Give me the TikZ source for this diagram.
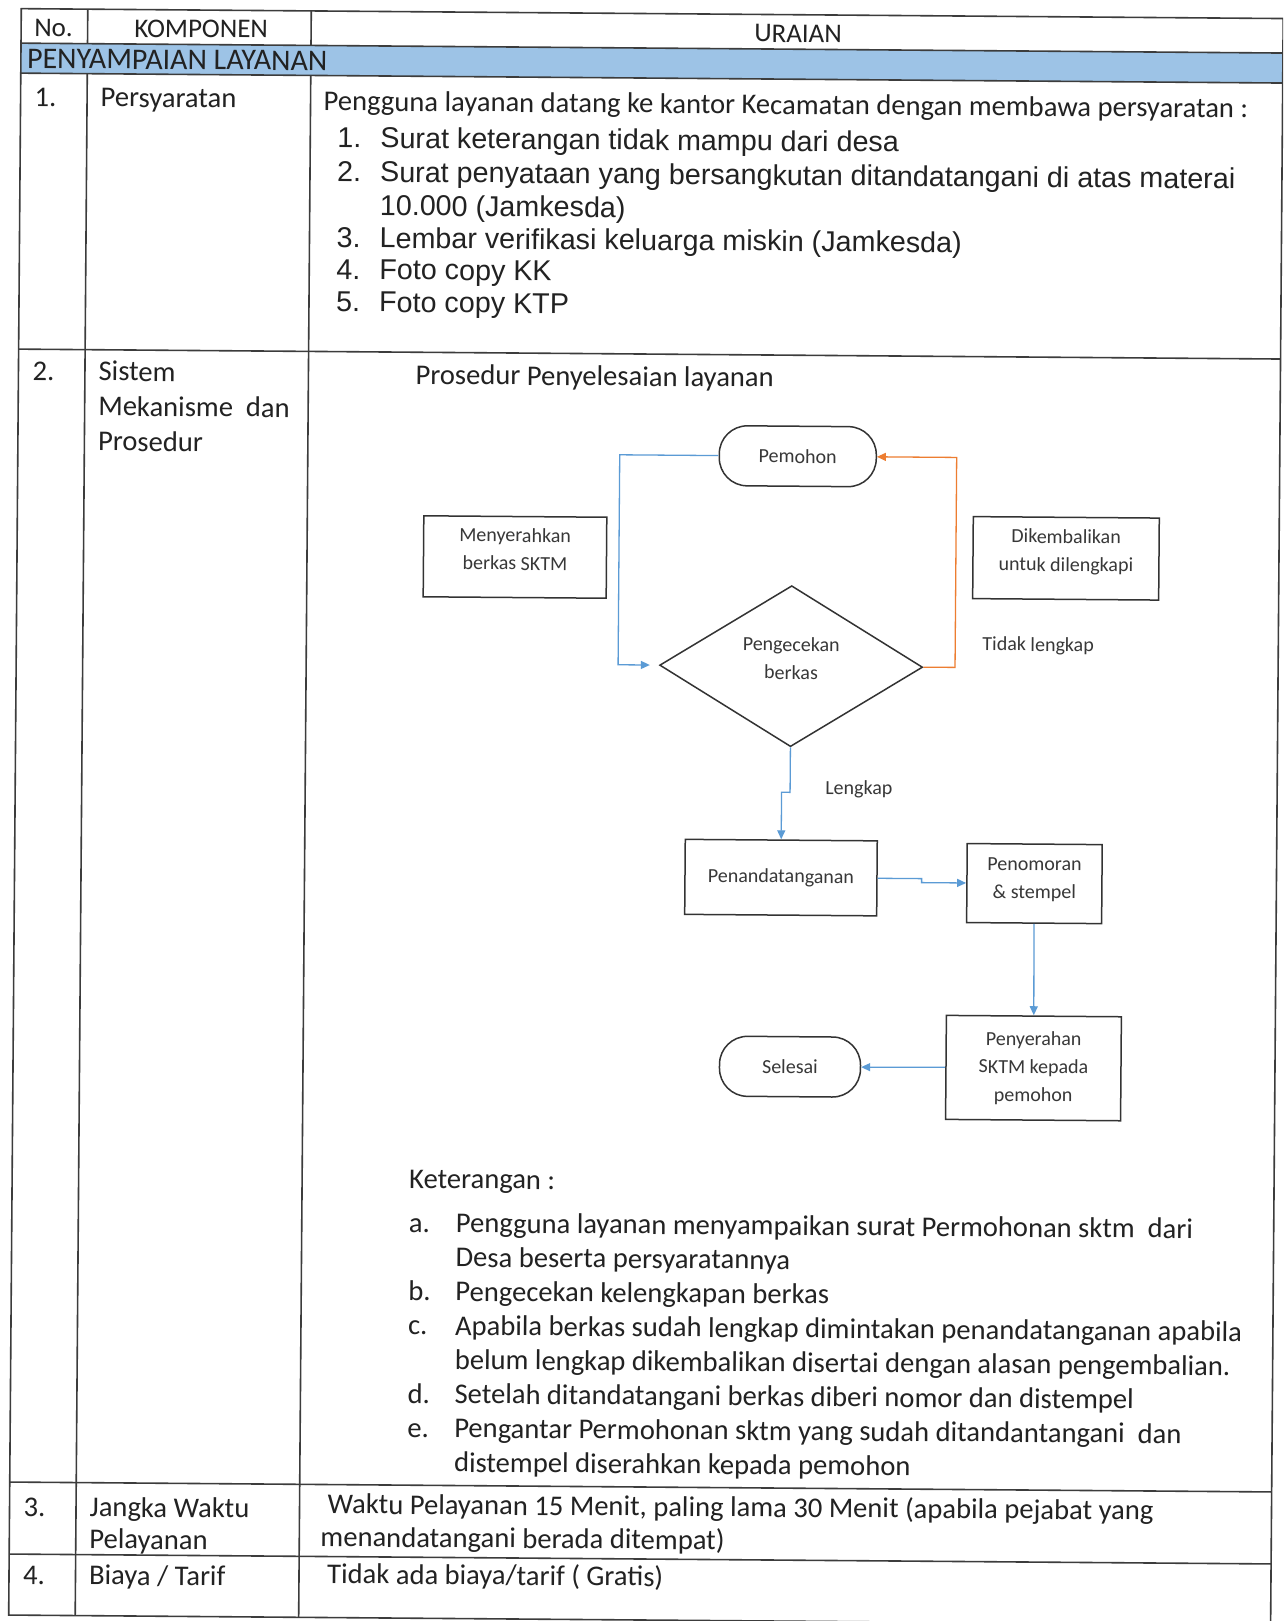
\documentclass[tikz,border=0pt]{standalone}
\usepackage{fontspec}
\setmainfont{Carlito}
\newfontfamily\listfont{Liberation Sans}
\usetikzlibrary{arrows.meta,shapes.geometric}
\definecolor{ink}{HTML}{222222}
\definecolor{rulegray}{HTML}{3C3C3C}
\definecolor{band}{HTML}{9DC3E6}
\definecolor{flowblue}{HTML}{5B9BD5}
\definecolor{floworange}{HTML}{ED7D31}
\begin{document}
\begin{tikzpicture}[x=1pt,y=-1pt,
  txt/.style={anchor=base west, inner sep=0pt, text=ink, font=\fontsize{28.6}{34}\selectfont},
  hdr/.style={anchor=base, inner sep=0pt, text=ink, font=\fontsize{27}{32}\selectfont},
  lst/.style={anchor=base west, inner sep=0pt, text=ink, font=\listfont\fontsize{28.7}{33}\selectfont},
  tline/.style={draw=rulegray, line width=1.6pt},
  flowbox/.style={draw=black!80, line width=1.5pt, text=black!78, align=center, inner sep=0pt,
    font=\fontsize{20}{28}\selectfont},
  terminal/.style={flowbox, rounded corners=28pt},
  lbl/.style={anchor=base west, inner sep=0pt, text=black!78, font=\fontsize{20}{24}\selectfont},
  bflow/.style={draw=flowblue, line width=1.3pt},
  oflow/.style={draw=floworange, line width=1.3pt},
  arrowtip/.style={-{Triangle[length=9pt,width=8pt]}},
]
% page
\fill[white] (0,0) rectangle (1283,1621);
\useasboundingbox (0,0) rectangle (1283,1621);
\clip (0,0) rectangle (1283,1621);

\begin{scope}[rotate around={-0.45:(641,810)}, transform shape]
% ---------- table frame ----------
\fill[band] (15,48) rectangle (1277,78);
\draw[tline] (15,13.5) rectangle (1277,1620);
\foreach \yy in {48,78,354,1487,1559}
  \draw[tline] (15,\yy) -- (1277,\yy);
\draw[tline] (81.5,13.5) -- (81.5,48);
\draw[tline] (305,13.5) -- (305,48);
\draw[tline] (81.5,78) -- (81.5,1620);
\draw[tline] (305,78) -- (305,1620);

% ---------- header ----------
\node[txt, font=\fontsize{27}{32}\selectfont] (hno) at (28,41) {No.};
\node[hdr] (hkomp) at (195,41) {KOMPONEN};
\node[hdr] (hurai) at (792,41) {URAIAN};
\node[txt, font=\fontsize{30}{34}\selectfont] (band) at (21,73) {PENYAMPAIAN LAYANAN};

% ---------- row 1 ----------
\node[txt] (n1) at (29,111) {1.};
\node[txt] (k1) at (95,111) {Persyaratan};
\node[txt] (u1) at (318,113) {Pengguna layanan datang ke kantor Kecamatan dengan membawa persyaratan :};
\node[lst] (l1n) at (332,150) {1.};
\node[lst] (l1t) at (375,150) {Surat keterangan tidak mampu dari desa};
\node[lst] (l2n) at (332,184) {2.};
\node[lst] (l2t) at (375,184) {Surat penyataan yang bersangkutan ditandatangani di atas materai};
\node[lst] (l2u) at (375,217.5) {10.000 (Jamkesda)};
\node[lst] (l3n) at (332,250) {3.};
\node[lst] (l3t) at (375,250) {Lembar verifikasi keluarga miskin (Jamkesda)};
\node[lst] (l4n) at (332,281.5) {4.};
\node[lst] (l4t) at (375,281.5) {Foto copy KK};
\node[lst] (l5n) at (332,314) {5.};
\node[lst] (l5t) at (375,314) {Foto copy KTP};

% ---------- row 2 ----------
\node[txt] (n2) at (29,385) {2.};
\node[txt] (k2a) at (95,385) {Sistem};
\node[txt] (k2b) at (95,420) {Mekanisme \ dan};
\node[txt] (k2c) at (95,455) {Prosedur};
\node[txt] (u2) at (412,386) {Prosedur Penyelesaian layanan};

% flowchart
\node[terminal, minimum width=157pt, minimum height=60pt] (pem) at (795,455) {Pemohon};
\node[flowbox, text depth=16pt, minimum width=183pt, minimum height=81pt] (serah) at (513,558) {Menyerahkan\\berkas SKTM};
\node[flowbox, text depth=16pt, minimum width=186pt, minimum height=82pt] (kembali) at (1064,555) {Dikembalikan\\untuk dilengkapi};
\node[flowbox, diamond, aspect=1.6, text depth=16pt, minimum width=263pt, minimum height=161pt] (cek) at (790,665) {Pengecekan\\berkas};
\node[flowbox, minimum width=192pt, minimum height=75pt] (ttd) at (781.5,876.5) {Penandatanganan};
\node[flowbox, text depth=11pt, minimum width=135pt, minimum height=79pt] (nomor) at (1035,880.5) {Penomoran\\\&\ stempel};
\node[flowbox, minimum width=175pt, minimum height=104pt] (serahkan) at (1035.5,1065) {Penyerahan\\SKTM kepada\\pemohon};
\node[terminal, minimum width=141pt, minimum height=60pt] (selesai) at (792,1065.5) {Selesai};
\node[lbl] (tdk) at (981,648) {Tidak lengkap};
\node[lbl] (lkp) at (825,793) {Lengkap};

\coordinate (lbend) at (617,455);
\coordinate (obend) at (954,665);
\draw[bflow, arrowtip, shorten >=9pt] (pem.west) -- (lbend) |- (cek.west);
\draw[oflow, arrowtip] (cek.east) -- (obend) |- (pem.east);
\draw[bflow, arrowtip] (cek.south) -- ++(0,45) -| (ttd.north);
\draw[bflow, arrowtip] (ttd.east) -- ++(44,0) |- (nomor.west);
\draw[bflow, arrowtip] (nomor.south) -- (serahkan.north);
\draw[bflow, arrowtip] (serahkan.west) -- (selesai.east);

% notes
\node[txt] (ket) at (412,1190) {Keterangan :};
\node[txt] (ka) at (412,1234) {a.};
\node[txt] (kat) at (459,1234) {Pengguna layanan menyampaikan surat Permohonan sktm \ dari};
\node[txt] (kau) at (459,1268.2) {Desa beserta persyaratannya};
\node[txt] (kb) at (412,1302.4) {b.};
\node[txt] (kbt) at (459,1302.4) {Pengecekan kelengkapan berkas};
\node[txt] (kc) at (412,1336.6) {c.};
\node[txt] (kct) at (459,1336.6) {Apabila berkas sudah lengkap dimintakan penandatanganan apabila};
\node[txt] (kcu) at (459,1370.8) {belum lengkap dikembalikan disertai dengan alasan pengembalian.};
\node[txt] (kd) at (412,1405) {d.};
\node[txt] (kdt) at (459,1405) {Setelah ditandatangani berkas diberi nomor dan distempel};
\node[txt] (ke) at (412,1439.2) {e.};
\node[txt] (ket1) at (459,1439.2) {Pengantar Permohonan sktm yang sudah ditandantangani \ dan};
\node[txt] (ket2) at (459,1473.4) {distempel diserahkan kepada pemohon};

% ---------- row 3 ----------
\node[txt] (n3) at (29,1521) {3.};
\node[txt] (k3a) at (95,1521) {Jangka Waktu};
\node[txt] (k3b) at (95,1553) {Pelayanan};
\node[txt] (u3a) at (333,1516) {Waktu Pelayanan 15 Menit, paling lama 30 Menit (apabila pejabat yang};
\node[txt] (u3b) at (326,1549) {menandatangani berada ditempat)};

% ---------- row 4 ----------
\node[txt] (n4) at (29,1589) {4.};
\node[txt] (k4) at (95,1589) {Biaya / Tarif};
\node[txt] (u4) at (333,1586) {Tidak ada biaya/tarif ( Gratis)};
\end{scope}
\end{tikzpicture}
\end{document}
